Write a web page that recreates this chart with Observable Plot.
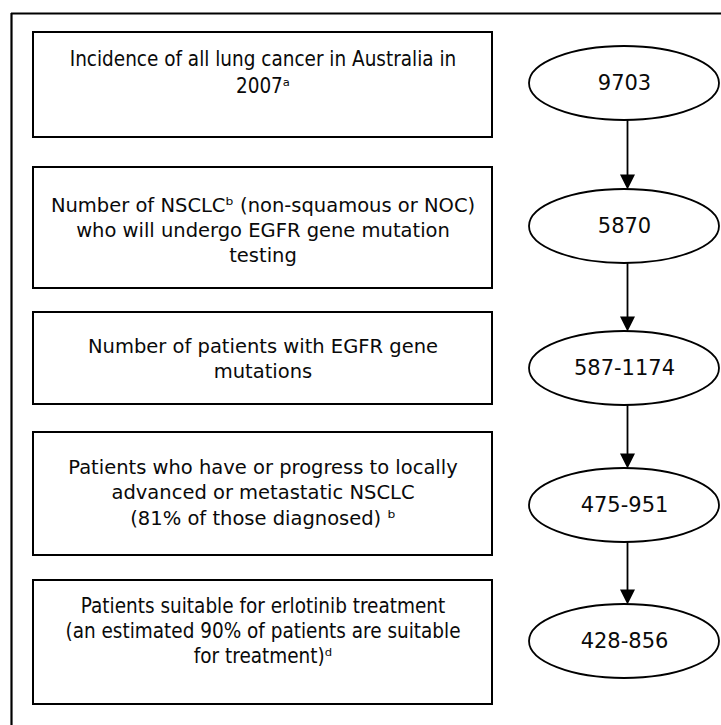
<!DOCTYPE html>
<html><head><meta charset="utf-8">
<script src="https://cdn.jsdelivr.net/npm/d3@7"></script>
<script src="https://cdn.jsdelivr.net/npm/@observablehq/plot@0.6"></script>
<style>html,body{margin:0;padding:0;background:#fff}</style>
</head><body><div id="chart"></div>
<script>
// ---- data ----
const steps = [
  "Incidence of all lung cancer in Australia in\n2007ᵃ",
  "Number of NSCLCᵇ (non-squamous or NOC)\nwho will undergo EGFR gene mutation\ntesting",
  "Number of patients with EGFR gene\nmutations",
  "Patients who have or progress to locally\nadvanced or metastatic NSCLC\n(81% of those diagnosed) ᵇ",
  "Patients suitable for erlotinib treatment\n(an estimated 90% of patients are suitable\nfor treatment)ᵈ"
];
const counts = ["9703", "5870", "587-1174", "475-951", "428-856"];

// ---- layout (pixels) ----
const W = 721, H = 725;
const boxX1 = 33, boxX2 = 492;
const boxTop = [32, 167, 312, 432, 580];
const boxBottom = [137, 288, 404, 555, 704];
const firstLineY = [59, 205, 346, 467, 606];
const lineGap = [27, 25, 25, 25.5, 25];
const ellCx = 624, ellRx = 95, ellRy = 37;
const ellCy = [83, 226, 368, 505, 641];
const condensed = [true, false, false, false, true];

const rows = steps.map((s, i) => ({
  i, step: s, count: counts[i], top: boxTop[i], bottom: boxBottom[i], cy: ellCy[i]
}));
const lines = rows.flatMap(r => r.step.split("\n").map((t, k) => ({
  text: t, y: firstLineY[r.i] + k * lineGap[r.i], condensed: condensed[r.i]
})));
const links = rows.slice(0, -1).map((r, i) => ({ y1: r.cy + ellRy, y2: rows[i + 1].cy - ellRy }));

const headSymbol = {
  draw(ctx) { ctx.moveTo(0, 0); ctx.lineTo(-7.5, -15); ctx.lineTo(7.5, -15); ctx.closePath(); }
};
const condFont = "'DejaVu Sans Condensed','Liberation Sans Narrow',sans-serif";
const wideFont = "'DejaVu Sans',Verdana,sans-serif";
const midX = (boxX1 + boxX2) / 2;

const chart = Plot.plot({
  width: W, height: H,
  margin: 0,
  x: { domain: [0, W], range: [0, W], axis: null },
  y: { domain: [0, H], range: [0, H], axis: null },
  marks: [
    // outer frame (top and left edges visible)
    Plot.ruleY([13], { x1: 11, x2: W + 5, stroke: "black", strokeWidth: 2.2 }),
    Plot.ruleX([11], { y1: 13, y2: H + 5, stroke: "black", strokeWidth: 2.2 }),
    // boxes
    Plot.rect(rows, { x1: () => boxX1, x2: () => boxX2, y1: "top", y2: "bottom",
      fill: "white", stroke: "black", strokeWidth: 2 }),
    // box texts
    Plot.text(lines.filter(d => d.condensed), { x: () => midX, y: "y", text: "text",
      fontFamily: condFont, fontSize: 20.5, fill: "#0a0a0a" }),
    Plot.text(lines.filter(d => !d.condensed), { x: () => midX, y: "y", text: "text",
      fontFamily: wideFont, fontSize: 19.5, fill: "#0a0a0a" }),
    // arrows
    Plot.ruleX(links, { x: () => ellCx + 3, y1: "y1", y2: d => d.y2 - 12, stroke: "black", strokeWidth: 1.8 }),
    Plot.dot(links, { x: () => ellCx + 3, y: "y2", symbol: headSymbol, fill: "black", stroke: "none" }),
    // ellipses
    Plot.rect(rows, { x1: () => ellCx - ellRx, x2: () => ellCx + ellRx, y1: d => d.cy - ellRy, y2: d => d.cy + ellRy,
      rx: ellRx, ry: ellRy, fill: "white", stroke: "black", strokeWidth: 1.8 }),
    Plot.text(rows, { x: () => ellCx, y: "cy", text: "count", fontFamily: wideFont, fontSize: 21, fill: "#0a0a0a" })
  ]
});
document.getElementById("chart").appendChild(chart);
</script>
</body></html>
